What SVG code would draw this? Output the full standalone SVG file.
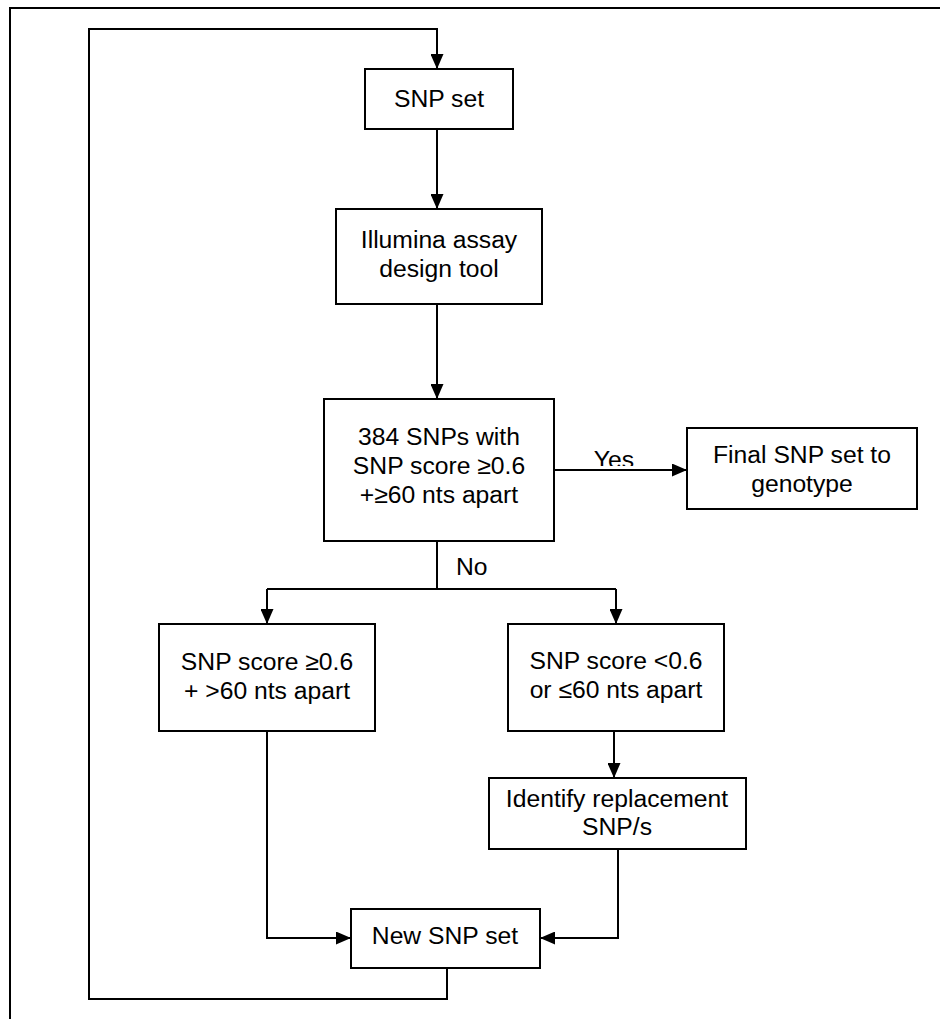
<svg xmlns="http://www.w3.org/2000/svg" width="940" height="1019" viewBox="0 0 940 1019">
<style>
.box{fill:#fff;stroke:#000;stroke-width:2}
.ln{fill:none;stroke:#000;stroke-width:2}
.arr{marker-end:url(#ah)}
text{font-family:"Liberation Sans",Arial,sans-serif;font-size:24.7px;fill:#000;text-anchor:middle}
.lbl{text-anchor:start}
</style>
<defs>
<marker id="ah" markerUnits="userSpaceOnUse" markerWidth="15" markerHeight="13" refX="15" refY="6.5" orient="auto">
<path d="M0,0 L15,6.5 L0,13 z" fill="#000"/>
</marker>
<clipPath id="yesclip"><rect x="580" y="440" width="70" height="26"/></clipPath>
</defs>
<rect width="940" height="1019" fill="#fff"/>
<path class="ln" d="M10,1019 V8 H940"/>
<g id="connectors">
<path class="ln arr" d="M447,968 V999 H89 V29 H437 V69"/>
<path class="ln arr" d="M437,129 V209"/>
<path class="ln arr" d="M437,304 V399"/>
<path class="ln arr" d="M554,470 H687"/>
<path class="ln" d="M437,541 V589"/>
<path class="ln" d="M267,589 H616"/>
<path class="ln arr" d="M267,589 V624"/>
<path class="ln arr" d="M616,589 V624"/>
<path class="ln arr" d="M614,731 V778"/>
<path class="ln arr" d="M267,731 V938 H351"/>
<path class="ln arr" d="M618,849 V938 H540"/>
<text x="614" y="468" clip-path="url(#yesclip)">Yes</text>
<text class="lbl" x="456" y="575">No</text>
</g>
<g id="snp-set">
<rect class="box" x="365" y="69" width="148" height="60"/>
<text x="439" y="107">SNP set</text>
</g>
<g id="illumina">
<rect class="box" x="336" y="209" width="206" height="95"/>
<text x="439" y="248">Illumina assay</text>
<text x="439" y="277">design tool</text>
</g>
<g id="decision">
<rect class="box" x="324" y="399" width="230" height="142"/>
<text x="439" y="445">384 SNPs with</text>
<text x="439" y="474">SNP score ≥0.6</text>
<text x="439" y="503">+≥60 nts apart</text>
</g>
<g id="final">
<rect class="box" x="687" y="428" width="230" height="81"/>
<text x="802" y="463">Final SNP set to</text>
<text x="802" y="492">genotype</text>
</g>
<g id="pass">
<rect class="box" x="159" y="624" width="216" height="107"/>
<text x="267" y="670">SNP score ≥0.6</text>
<text x="267" y="699">+ &gt;60 nts apart</text>
</g>
<g id="fail">
<rect class="box" x="508" y="624" width="216" height="107"/>
<text x="616" y="669">SNP score &lt;0.6</text>
<text x="616" y="698">or ≤60 nts apart</text>
</g>
<g id="identify">
<rect class="box" x="489" y="778" width="257" height="71"/>
<text x="617" y="807">Identify replacement</text>
<text x="617" y="835">SNP/s</text>
</g>
<g id="new-set">
<rect class="box" x="351" y="909" width="189" height="59"/>
<text x="445" y="944">New SNP set</text>
</g>
</svg>
